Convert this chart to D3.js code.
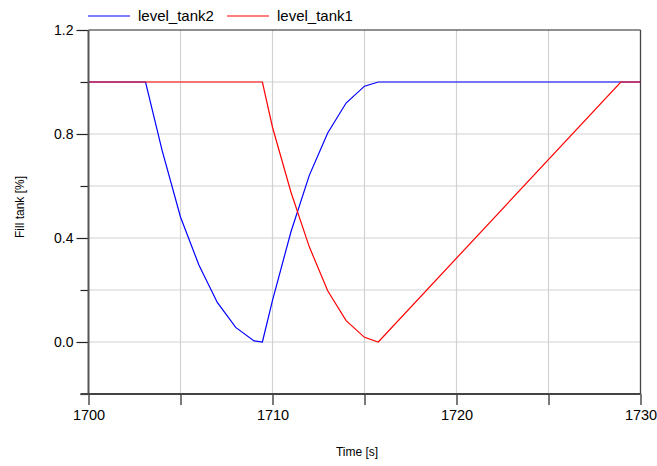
<!DOCTYPE html>
<html lang="en">
<head>
    <meta charset="UTF-8">
    <title>Fill tank</title>
    <script src="https://d3js.org/d3.v7.min.js"></script>
    <style>
        body { margin: 0; background: #fff; }
        text { font-family: "Liberation Sans", Arial, sans-serif; fill: #000; }
        .grid line { stroke: #d2d2d2; stroke-width: 1.2px; }
    </style>
</head>
<body>
<svg width="657" height="466"></svg>
<script>
    // series
    const time2 = [1700, 1703.1, 1704, 1705, 1706, 1707, 1708, 1709, 1709.45, 1710, 1711, 1712, 1713, 1714, 1715, 1715.75, 1730];
    const level2 = [1.0, 1.0, 0.737, 0.481, 0.296, 0.152, 0.056, 0.004, 0.0, 0.16, 0.423, 0.641, 0.804, 0.919, 0.984, 1.0, 1.0];
    const time1 = [1700, 1709.45, 1710, 1711, 1712, 1713, 1714, 1715, 1715.75, 1728.93, 1730];
    const level1 = [1.0, 1.0, 0.826, 0.577, 0.366, 0.197, 0.082, 0.018, 0.0, 1.0, 1.0];

    const xTicks = [1700, 1705, 1710, 1715, 1720, 1725, 1730];
    const xLabels = [1700, 1710, 1720, 1730];
    const yTicks = [-0.2, 0, 0.2, 0.4, 0.6, 0.8, 1.0, 1.2];
    const yLabels = [0, 0.4, 0.8, 1.2];

    const series = [
        { name: "level_tank2", color: "#0000ff", t: time2, v: level2 },
        { name: "level_tank1", color: "#ff0000", t: time1, v: level1 }
    ];

    const margin = { left: 88.5, right: 16.5, top: 30, bottom: 72 };
    const width = 657, height = 466;

    const svg = d3.select("svg");

    const x = d3.scaleLinear().domain([1700, 1730]).range([margin.left, width - margin.right]);
    const y = d3.scaleLinear().domain([-0.2, 1.2]).range([height - margin.bottom, margin.top]);

    // grid
    const grid = svg.append("g").attr("class", "grid");
    grid.selectAll(".gx").data(xTicks.slice(1, -1)).enter().append("line")
        .attr("x1", d => x(d)).attr("x2", d => x(d))
        .attr("y1", y(1.2)).attr("y2", y(-0.2));
    grid.selectAll(".gy").data(yTicks.slice(1, -1)).enter().append("line")
        .attr("x1", x(1700)).attr("x2", x(1730))
        .attr("y1", d => y(d)).attr("y2", d => y(d));

    // frame top / right
    svg.append("line").attr("x1", x(1700)).attr("x2", x(1730)).attr("y1", y(1.2)).attr("y2", y(1.2))
        .attr("stroke", "#222").attr("stroke-width", 1.2);
    svg.append("line").attr("x1", x(1730)).attr("x2", x(1730)).attr("y1", y(1.2)).attr("y2", y(-0.2))
        .attr("stroke", "#444").attr("stroke-width", 1.3);

    // curves
    const line = d3.line().x(d => x(d[0])).y(d => y(d[1]));
    svg.append("g").selectAll("path").data(series).enter().append("path")
        .attr("d", s => line(d3.zip(s.t, s.v)))
        .attr("fill", "none")
        .attr("stroke", s => s.color)
        .attr("stroke-width", 1.2);

    // y axis
    const yAxis = d3.axisLeft(y).tickValues(yTicks)
        .tickSize(0)
        .tickFormat(d => yLabels.some(v => Math.abs(v - d) < 1e-9) ? d3.format(".1f")(d) : "");
    const gy = svg.append("g").attr("transform", `translate(${x(1700)},0)`).call(yAxis);
    gy.select(".domain").remove();
    gy.selectAll(".tick line")
        .attr("x2", d => yLabels.some(v => Math.abs(v - d) < 1e-9) ? -12 : -8)
        .attr("stroke", "#222").attr("stroke-width", 1.2);
    gy.selectAll(".tick text").attr("x", -15).attr("dy", "0.35em")
        .style("font-size", "14px").style("font-family", "Liberation Sans, Arial, sans-serif");
    svg.append("line").attr("x1", x(1700)).attr("x2", x(1700)).attr("y1", y(1.2)).attr("y2", y(-0.2))
        .attr("stroke", "#555").attr("stroke-width", 2);

    // x axis
    const xAxis = d3.axisBottom(x).tickValues(xTicks).tickSize(11)
        .tickFormat(d => xLabels.includes(d) ? d : "");
    const gx = svg.append("g").attr("transform", `translate(0,${y(-0.2)})`).call(xAxis);
    gx.select(".domain").remove();
    gx.selectAll(".tick line").attr("stroke", "#222").attr("stroke-width", 1.2);
    gx.selectAll(".tick text").attr("y", 16)
        .style("font-size", "14.5px").style("font-family", "Liberation Sans, Arial, sans-serif");
    svg.append("line").attr("x1", x(1700) - 8).attr("x2", x(1730)).attr("y1", y(-0.2)).attr("y2", y(-0.2))
        .attr("stroke", "#444").attr("stroke-width", 2);

    // axis titles
    svg.append("text").attr("x", 357).attr("y", 456).attr("text-anchor", "middle")
        .style("font-size", "12px").text("Time [s]");
    svg.append("text").attr("transform", "translate(24,207) rotate(-90)").attr("text-anchor", "middle")
        .style("font-size", "12px").text("Fill tank [%]");

    // legend
    const legendX = [88, 227];
    const lg = svg.append("g").selectAll("g").data(series).enter().append("g")
        .attr("transform", (d, i) => `translate(${legendX[i]},16)`);
    lg.append("line").attr("x1", 0).attr("x2", 42).attr("stroke", d => d.color).attr("stroke-width", 1.2);
    lg.append("text").attr("x", 50).attr("dy", "0.35em").style("font-size", "15px").text(d => d.name);
</script>
</body>
</html>
